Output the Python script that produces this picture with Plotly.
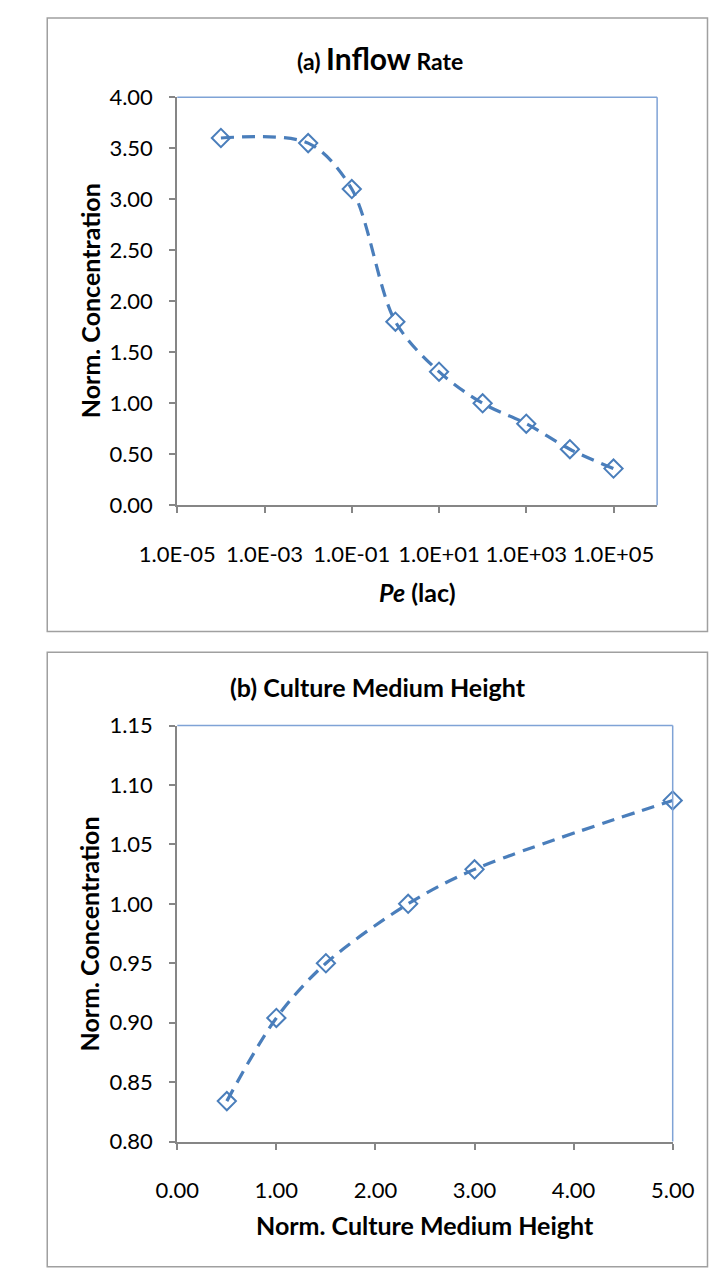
import plotly.graph_objects as go

# Panel (a): normalised concentration versus Peclet number (lac)
pe_values = [1e-4, 1e-2, 1e-1, 1e0, 1e1, 1e2, 1e3, 1e4, 1e5]
conc_a = [3.60, 3.55, 3.10, 1.80, 1.31, 1.00, 0.80, 0.55, 0.36]
pe_tickvals = [1e-5, 1e-3, 1e-1, 1e1, 1e3, 1e5]
pe_ticktext = ["1.0E-05", "1.0E-03", "1.0E-01", "1.0E+01", "1.0E+03", "1.0E+05"]

# Panel (b): normalised concentration versus culture medium height
height_values = [0.5, 1.0, 1.5, 2.33, 3.0, 5.0]
conc_b = [0.834, 0.904, 0.950, 1.000, 1.029, 1.087]

W, H = 724, 1271
FONT = "Lato"
BLUE = "#4A7EBB"
AXIS_GRAY = "#868686"
BORDER_BLUE = "#7FA3D6"
FRAME_GRAY = "#A0A0A0"


def fx(px):
    return px / W


def fy(py):
    return 1 - py / H


fig = go.Figure()

series_style = dict(
    mode="lines+markers",
    line=dict(color=BLUE, width=3.2, dash="13px,8px", shape="spline", smoothing=0.9),
    marker=dict(symbol="diamond-open", size=14, color=BLUE, line=dict(width=2, color=BLUE)),
    cliponaxis=False,
    showlegend=False,
)

fig.add_trace(go.Scatter(x=pe_values, y=conc_a, xaxis="x", yaxis="y", **series_style))
fig.add_trace(go.Scatter(x=height_values, y=conc_b, xaxis="x2", yaxis="y2", **series_style))

tick_font = dict(family=FONT, size=22, color="#000000")
axis_common = dict(
    showline=True, linecolor=AXIS_GRAY, linewidth=2,
    ticks="outside", ticklen=6, tickcolor=AXIS_GRAY, tickwidth=1.5,
    showgrid=False, zeroline=False, tickfont=tick_font,
)

fig.update_layout(
    width=W, height=H,
    margin=dict(l=0, r=0, t=0, b=0),
    paper_bgcolor="white", plot_bgcolor="white",
    xaxis=dict(
        domain=[fx(151), fx(675)], anchor="y", type="log", range=[-5, 6],
        tickvals=pe_tickvals, ticktext=pe_ticktext, ticklabelstandoff=22,
        **axis_common,
    ),
    yaxis=dict(
        domain=[fy(502), fy(85)], anchor="x", range=[0, 4], dtick=0.5,
        tickformat=".2f", ticklabelstandoff=12, **axis_common,
    ),
    xaxis2=dict(
        domain=[fx(151), fx(692)], anchor="y2", range=[0, 5], dtick=1,
        tickformat=".2f", ticklabelstandoff=22, **axis_common,
    ),
    yaxis2=dict(
        domain=[fy(1152), fy(727)], anchor="x2", range=[0.80, 1.15], dtick=0.05,
        tickformat=".2f", ticklabelstandoff=12, **axis_common,
    ),
)

shapes = []
# Outer chart frames
shapes.append(dict(type="rect", xref="paper", yref="paper",
                   x0=fx(9), x1=fx(730), y0=fy(631), y1=fy(4),
                   line=dict(color=FRAME_GRAY, width=1.5), layer="below"))
shapes.append(dict(type="rect", xref="paper", yref="paper",
                   x0=fx(9), x1=fx(730), y0=fy(1280), y1=fy(652),
                   line=dict(color=FRAME_GRAY, width=1.5), layer="below"))
# Top and right plot-area borders
for xa, ya in (("x", "y"), ("x2", "y2")):
    shapes.append(dict(type="line", xref=f"{xa} domain", yref=f"{ya} domain",
                       x0=0, x1=1, y0=1, y1=1, line=dict(color=BORDER_BLUE, width=1.5)))
    shapes.append(dict(type="line", xref=f"{xa} domain", yref=f"{ya} domain",
                       x0=1, x1=1, y0=0, y1=1, line=dict(color=BORDER_BLUE, width=1.5)))
fig.update_layout(shapes=shapes)


def label(text, x, y, size, angle=0):
    return dict(text=text, x=fx(x), y=fy(y), xref="paper", yref="paper",
                showarrow=False, textangle=angle, xanchor="center", yanchor="middle",
                font=dict(family=FONT, size=size, color="#000000"))


annotations = [
    label("<b>(a) <span style='font-size:30px'>Inflow</span> Rate</b>", 372, 45, 23),
    label("<b>Norm. Concentration</b>", 55, 293, 25, -90),
    label("<b><i>Pe</i> (lac)</b>", 413, 591, 25),
    label("<b>(b) Culture Medium Height</b>", 370, 688, 25),
    label("<b>Norm. Concentration</b>", 55, 940, 25, -90),
    label("<b>Norm. Culture Medium Height</b>", 421, 1237, 25),
]
fig.update_layout(annotations=annotations)

fig.write_html("out.html")
